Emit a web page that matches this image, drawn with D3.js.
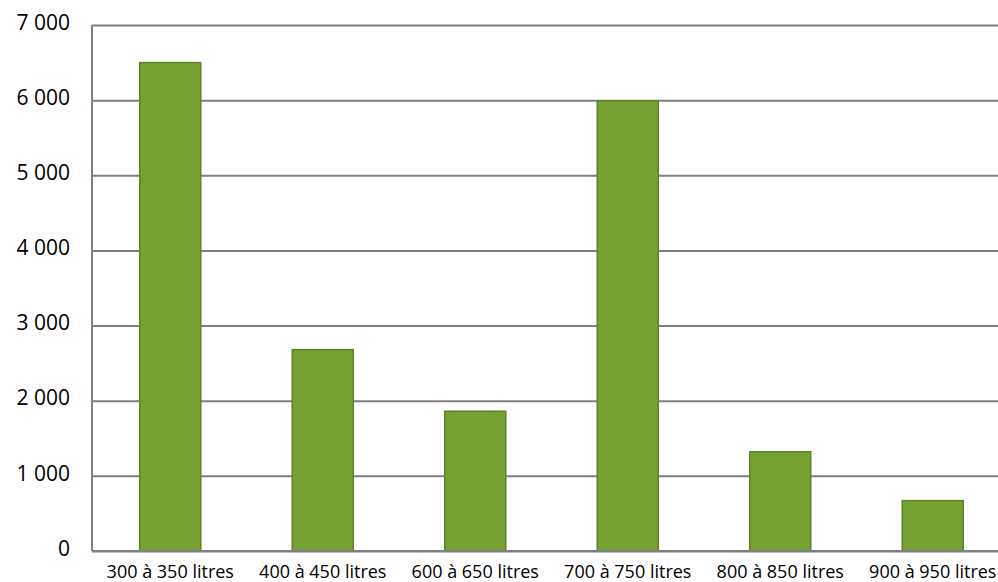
<!DOCTYPE html>
<html><head><meta charset="utf-8">
<script src="https://cdn.jsdelivr.net/npm/d3@7"></script>
<style>body{margin:0;background:#fff;}svg{display:block;}</style>
</head><body>
<svg id="c" width="998" height="582"></svg>
<script>
const categories = ["300 à 350 litres","400 à 450 litres","600 à 650 litres","700 à 750 litres","800 à 850 litres","900 à 950 litres"];
const values = [6500, 2680, 1860, 5990, 1320, 670];
const yTicks = [0,1000,2000,3000,4000,5000,6000,7000];

(function(){
const svg = d3.select("#c");
const mLeft = 92, mTop = 25, mBottom = 551;
const x = d3.scaleBand().domain(categories).range([mLeft + 2, 1009]).paddingInner(0.6).paddingOuter(0.3);
const y = d3.scaleLinear().domain([0,7000]).range([mBottom, mTop]);
const fmt = v => d3.format(",")(v).replace(/,/g, " ");

const yAxis = d3.axisLeft(y).tickValues(yTicks).tickSize(-(998-mLeft)).tickFormat(fmt).tickPadding(22);
const gy = svg.append("g").attr("transform",`translate(${mLeft},0)`).call(yAxis);
gy.select(".domain").remove();
gy.selectAll(".tick line").attr("stroke","#7f7f7f").attr("stroke-width",2);
gy.selectAll(".tick text").attr("font-family","'Open Sans', sans-serif").attr("font-size",21).attr("fill","#000").attr("dy","0.2em");

svg.append("line").attr("x1",mLeft).attr("x2",mLeft).attr("y1",mTop).attr("y2",mBottom)
  .attr("stroke","#7f7f7f").attr("stroke-width",2);

svg.append("g").selectAll("rect").data(values).join("rect")
  .attr("x",(d,i)=>x(categories[i]))
  .attr("y",d=>y(d))
  .attr("width",x.bandwidth())
  .attr("height",d=>y(0)-y(d))
  .attr("fill","#76a032")
  .attr("stroke","#5e8228")
  .attr("stroke-width",1.5);

const xAxis = d3.axisBottom(x).tickSize(0).tickPadding(14);
const gx = svg.append("g").attr("transform",`translate(0,${mBottom})`).call(xAxis);
gx.select(".domain").remove();
gx.selectAll(".tick text").attr("font-family","'Open Sans', sans-serif").attr("font-size",18).attr("fill","#000");
svg.append("line").attr("x1",mLeft).attr("x2",998).attr("y1",mBottom).attr("y2",mBottom)
  .attr("stroke","#7f7f7f").attr("stroke-width",2);
})();
</script>
</body></html>
